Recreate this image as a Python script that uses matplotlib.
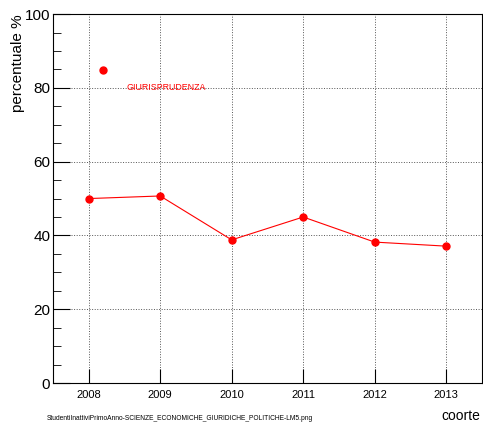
import numpy as np
import matplotlib
matplotlib.use("Agg")
import matplotlib.pyplot as plt
from matplotlib.ticker import MultipleLocator

plt.rcParams['font.family'] = ['Liberation Sans', 'DejaVu Sans']

anni = [2008, 2009, 2010, 2011, 2012, 2013]
percentuali = [50.0, 50.7, 38.8, 45.0, 38.2, 37.1]
legenda_x = [2008.2]
legenda_y = [84.8]
etichetta = "GIURISPRUDENZA"
nome_file = "StudentiInattiviPrimoAnno-SCIENZE_ECONOMICHE_GIURIDICHE_POLITICHE-LM5.png"

fig = plt.figure(figsize=(4.83, 4.25), dpi=100)
ax = fig.add_axes([0.1097, 0.0988, 0.888, 0.868])

ax.plot(anni, percentuali, color='red', lw=0.8, marker='o', ms=5, zorder=3)
ax.plot(legenda_x, legenda_y, 'o', color='red', ms=5, zorder=3)
ax.text(2008.53, 80, etichetta, color='red', fontsize=6.4, va='center', ha='left')

ax.set_xlim(2007.5, 2013.5)
ax.set_ylim(0, 100)
ax.set_xticks(anni)
ax.yaxis.set_major_locator(MultipleLocator(20))
ax.yaxis.set_minor_locator(MultipleLocator(5))
ax.tick_params(axis='y', which='major', direction='in', length=12, labelsize=11, pad=2)
ax.tick_params(axis='y', which='minor', direction='in', length=6)
ax.tick_params(axis='x', which='major', direction='in', length=10, labelsize=8, pad=5)
ax.grid(True, which='major', linestyle=':', color='#555555', lw=0.7)

for s in ax.spines.values():
    s.set_linewidth(0.8)

fig.text(0.022, 0.965, "percentuale %", rotation=90, fontsize=11, ha='left', va='top')
fig.text(0.995, 0.004, "coorte", fontsize=10, ha='right', va='bottom')
fig.text(0.097, 0.007, nome_file, fontsize=4.8, ha='left', va='bottom')

fig.savefig("out.png", dpi=100)
